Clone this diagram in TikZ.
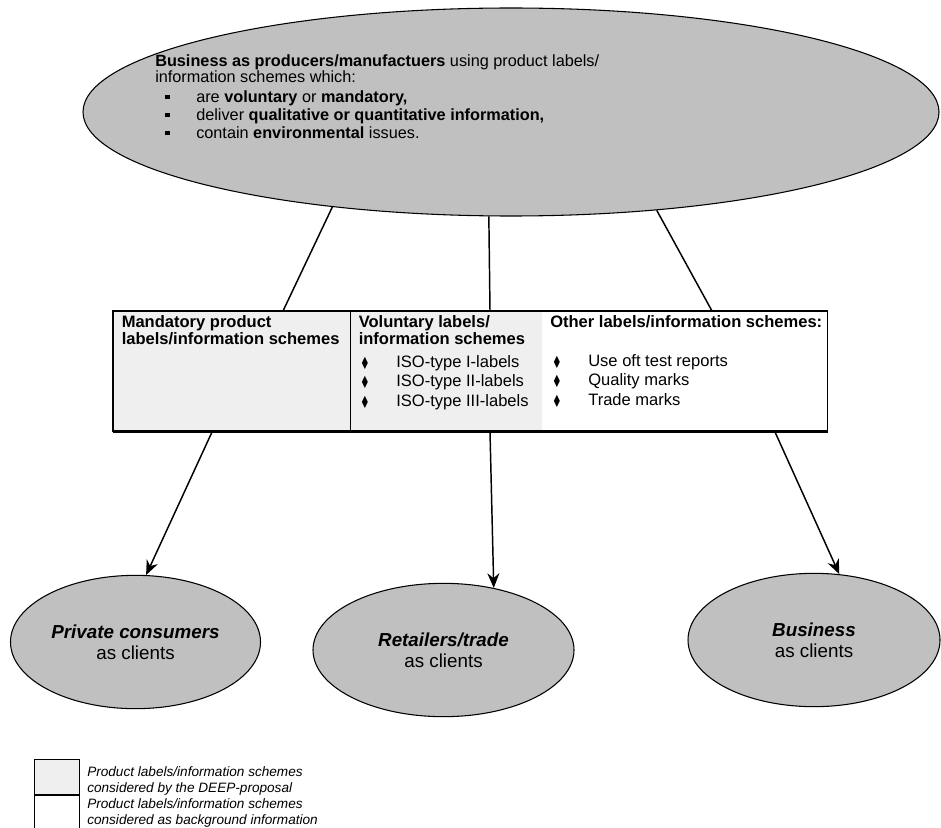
\documentclass[tikz,border=0pt]{standalone}
\usepackage{fontspec}
\setmainfont{Liberation Sans}
\usepackage{amssymb}
\usetikzlibrary{positioning, arrows.meta, shapes.geometric, calc}
\definecolor{ovalgrey}{HTML}{C0C0C0}
\definecolor{cellgrey}{HTML}{EFEFEF}
\newcommand{\sqb}{\makebox[30.75pt][l]{\hspace{7.5pt}\rule[0.2em]{3.5pt}{3.5pt}}}
\newcommand{\dmb}{\makebox[26.25pt][l]{\scalebox{0.65}[0.85]{$\blacklozenge$}}}

\begin{document}
\begin{tikzpicture}[
        x=0.75pt, y=-0.75pt,
        oval/.style={ellipse, draw, line width=0.8pt, fill=ovalgrey, inner sep=0pt},
        client/.style={oval, align=center, font=\fontsize{14.1}{15.8}\selectfont},
        cell/.style={rectangle, anchor=north west, inner sep=0pt, minimum height=90pt},
        txt/.style={anchor=north west, inner sep=0pt, align=left,
            font=\fontsize{12.2}{13.5}\selectfont},
        head/.style={txt, font=\bfseries\fontsize{12.4}{13.2}\selectfont},
        items/.style={txt, font=\fontsize{12.4}{14.6}\selectfont},
        legbox/.style={rectangle, draw, line width=0.8pt, anchor=north west,
            inner sep=0pt, minimum width=33.75pt},
        legtxt/.style={txt, font=\itshape\fontsize{10.2}{12.6}\selectfont},
        frame/.style={line width=0.9pt},
        link/.style={line width=1.1pt},
        arrow/.style={link, -{Stealth[length=11pt, width=9pt]}},
        ]
        \useasboundingbox (0,0) rectangle (941,827);

        % Producers
        \node[oval, minimum width=642pt, minimum height=156pt] (prod) at (511,112) {};
        \node[txt] (prodtxt) at (155,54)
        {\textbf{Business as producers/manufactuers} using product labels/\\[-0.8pt]
            information schemes which:\\[1.3pt]
            \sqb are \textbf{voluntary} or \textbf{mandatory,}\\
            \sqb deliver \textbf{qualitative or quantitative information,}\\
            \sqb contain \textbf{environmental} issues.};

        % Label schemes table
        \node[cell, fill=cellgrey, minimum width=177.75pt] (mand) at (113,311) {};
        \node[cell, fill=cellgrey, minimum width=144pt] (vol) at (350,311) {};
        \node[cell, fill=white, minimum width=213.75pt] (oth) at (542,311) {};
        \draw[frame] (mand.north west) rectangle (oth.south east);
        \draw[frame] (mand.north east) -- (mand.south east);
        \draw[line width=1.7pt] (mand.south west) -- (oth.south east);

        \node[head] (mandhead) at (121.5,315) {Mandatory product\\labels/information schemes};
        \node[head] (volhead) at (358.5,315) {Voluntary labels/\\information schemes};
        \node[items] (volitems) at (361,355)
        {\dmb ISO-type I-labels\\\dmb ISO-type II-labels\\\dmb ISO-type III-labels};
        \node[head] (othhead) at (550,315) {Other labels/information schemes:};
        \node[items] (othitems) at (553,354)
        {\dmb Use oft test reports\\\dmb Quality marks\\\dmb Trade marks};

        % Links from producers to table
        \coordinate (t1) at (283,311);
        \coordinate (t2) at (490,311);
        \coordinate (t3) at (712,311);
        \draw[link] (prod.208.5) -- (t1);
        \draw[link] (prod.258) -- (t2);
        \draw[link] (prod.326.6) -- (t3);

        % Clients
        \node[client, minimum width=187.5pt, minimum height=100pt] (pc) at (135.5,642)
        {\textbf{\textit{Private consumers}}\\as clients};
        \node[client, minimum width=195.75pt, minimum height=100pt] (rt) at (443.5,650)
        {\textbf{\textit{Retailers/trade}}\\as clients};
        \node[client, minimum width=189pt, minimum height=100pt] (bc) at (814,640)
        {\textbf{\textit{Business}}\\as clients};

        % Arrows from table to clients
        \coordinate (b1) at (212,432);
        \coordinate (b2) at (490,432);
        \coordinate (b3) at (775,432);
        \draw[arrow] (b1) -- (pc.81);
        \draw[arrow] (b2) -- (rt.51);
        \draw[arrow] (b3) -- (bc.69);

        % Legend
        \node[legbox, fill=cellgrey, minimum height=26pt] (keydeep) at (34,759) {};
        \node[legbox, fill=white, minimum height=33pt, below=0pt of keydeep] (keyback) {};
        \node[legtxt] (deeptxt) at (87,766)
        {Product labels/information schemes\\considered by the DEEP-proposal};
        \node[legtxt] (backtxt) at (87,798)
        {Product labels/information schemes\\considered as background information};
    \end{tikzpicture}
\end{document}
